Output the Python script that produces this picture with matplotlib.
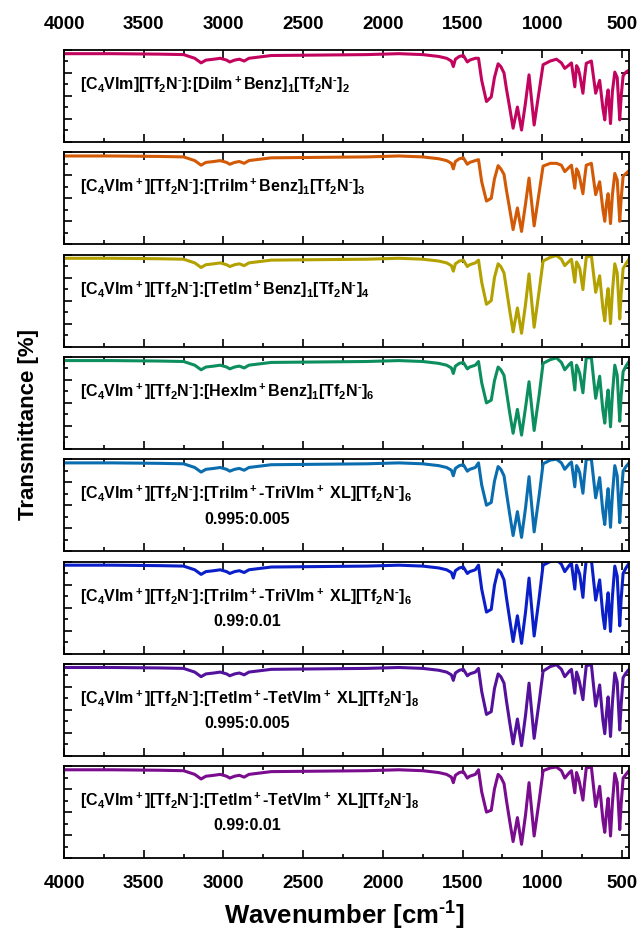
import numpy as np
import matplotlib.pyplot as plt
from matplotlib.ticker import MultipleLocator

plt.rcParams['font.family'] = ['Liberation Sans', 'DejaVu Sans']
plt.rcParams['font.weight'] = 'bold'
plt.rcParams['mathtext.fontset'] = 'custom'
plt.rcParams['mathtext.rm'] = 'Liberation Sans:bold'
plt.rcParams['mathtext.it'] = 'Liberation Sans:bold'
plt.rcParams['mathtext.bf'] = 'Liberation Sans:bold'
plt.rcParams['mathtext.default'] = 'rm'

# --- данные: общая часть спектра (4000-1420 см-1) ---
wn_head = [4000, 3700, 3400, 3250, 3180, 3140, 3110, 3060, 3020, 2980, 2960, 2930,
           2900, 2870, 2840, 2700, 2400, 2100, 1900, 1750, 1650, 1600, 1570, 1558,
           1545, 1520, 1495, 1470, 1455, 1420]
t_head = [96, 96, 95.5, 95, 91, 86, 89, 90, 91, 89, 87, 89,
          90, 88, 91, 94, 94.5, 95, 96, 95, 93, 91, 88, 82,
          90, 93, 94, 87, 89, 91]

# --- область отпечатков пальцев (1400-456 см-1) ---
wn_tail = [1400, 1380, 1350, 1320, 1300, 1277, 1260, 1240, 1225, 1205, 1183, 1156,
           1130, 1105, 1083, 1051, 1020, 995, 950, 911, 880, 859, 830, 817,
           796, 785, 775, 765, 745, 735, 724, 692, 665, 640, 620, 608,
           597, 587, 572, 560, 545, 530, 514, 505, 493, 475, 456]

t_dibenz = [91, 67, 44, 49, 70, 85, 82, 75, 58, 38, 15, 38,
            13, 43, 73, 18.5, 55, 84, 88, 90, 86, 80, 84, 86,
            60, 83, 80, 73, 53, 70, 85.5, 88, 53, 67, 37, 24,
            46, 56.6, 20, 55, 76, 70, 24, 50, 72, 76, 78]
t_tribenz = [92, 68, 47, 50, 71, 85.5, 82, 76, 59, 39, 16, 39.5,
             14, 44, 72, 20, 56, 85, 88, 88, 86, 79, 84, 86,
             61, 82, 79, 72, 55, 71, 86, 88, 54, 68, 38, 25,
             45, 55, 22.5, 54, 77, 70, 25, 50, 74, 77, 80]
t_tetbenz = [94, 70, 46, 50, 75, 90, 87, 80, 63, 40, 16, 42,
             14.5, 46, 79, 21, 60, 93, 97, 99, 95, 88, 93, 95,
             70, 92, 89, 85, 62, 80, 97, 99, 59, 77, 42, 28,
             50, 63, 25, 60, 90, 80, 30, 58, 85, 90, 95]
t_hexbenz = [95, 72, 50, 53, 74, 89, 86, 80, 63, 40, 17, 43,
             15, 45, 73, 20, 58, 93, 97, 99, 94, 86, 92, 94,
             64, 91, 87, 82, 61, 80, 99, 99, 55, 79, 42, 28,
             50, 64, 24, 60, 91, 80, 30, 58, 84, 90, 95]
t_tri_995 = [96, 72, 50, 53, 76, 92, 89, 82, 64, 41, 17, 43,
             15, 47, 81, 21, 60, 95, 99, 100, 96, 89, 95, 97,
             70, 93, 90, 85, 63, 82, 100, 100, 58, 80, 43, 29,
             52, 68, 26, 62, 93, 82, 31, 60, 87, 92, 96]
t_tri_99 = [96, 70, 45, 48, 74, 91, 88, 80, 61, 38, 13, 41,
            11, 45, 82, 19, 60, 96, 100, 102, 97, 89, 96, 98,
            70, 96, 91, 86, 61, 84, 102, 102, 58, 80, 42, 27,
            50, 66, 24, 62, 95, 84, 30, 60, 87, 93, 98]
t_tet_995 = [95, 70, 45, 48, 73, 89, 86, 79, 60, 37, 13, 40,
             11, 44, 79, 19, 58, 92, 97, 99, 94, 86, 92, 94,
             68, 91, 86, 79, 61, 80, 98, 99, 54, 77, 39, 24,
             47, 64, 21, 58, 90, 80, 28, 56, 85, 90, 94]
t_tet_99 = [96, 72, 50, 52, 75, 91, 88, 81, 63, 41, 18, 44,
            15, 47, 82, 24, 62, 95, 98, 99, 95, 87, 93, 95,
            71, 93, 88, 81, 63, 81, 98, 99, 56, 78, 42, 28,
            50, 65, 24, 60, 92, 82, 31, 59, 87, 91, 95]

M = r'$^\text{-}$'  # короткий дефис в верхнем индексе
labels = [
    r'[C$_4$VIm][Tf$_2$N' + M + r']:[DiIm$^+$Benz]$_1$[Tf$_2$N' + M + r']$_2$',
    r'[C$_4$VIm$^+$][Tf$_2$N' + M + r']:[TriIm$^+$Benz]$_1$[Tf$_2$N' + M + r']$_3$',
    r'[C$_4$VIm$^+$][Tf$_2$N' + M + r']:[TetIm$^+$Benz]$_1$[Tf$_2$N' + M + r']$_4$',
    r'[C$_4$VIm$^+$][Tf$_2$N' + M + r']:[HexIm$^+$Benz]$_1$[Tf$_2$N' + M + r']$_6$',
    r'[C$_4$VIm$^+$][Tf$_2$N' + M + r']:[TriIm$^+$-TriVIm$^+$ XL][Tf$_2$N' + M + r']$_6$',
    r'[C$_4$VIm$^+$][Tf$_2$N' + M + r']:[TriIm$^+$-TriVIm$^+$ XL][Tf$_2$N' + M + r']$_6$',
    r'[C$_4$VIm$^+$][Tf$_2$N' + M + r']:[TetIm$^+$-TetVIm$^+$ XL][Tf$_2$N' + M + r']$_8$',
    r'[C$_4$VIm$^+$][Tf$_2$N' + M + r']:[TetIm$^+$-TetVIm$^+$ XL][Tf$_2$N' + M + r']$_8$',
]
ratios = ['', '', '', '', '0.995:0.005', '0.99:0.01', '0.995:0.005', '0.99:0.01']
spectra = [t_dibenz, t_tribenz, t_tetbenz, t_hexbenz,
           t_tri_995, t_tri_99, t_tet_995, t_tet_99]
colors = ['#C2045E', '#D25A06', '#B3A100', '#0C8E5E',
          '#0A6DB0', '#0A1FC8', '#54119C', '#7A0C8E']

# ===============================
# Построение
# ===============================
fig = plt.figure(figsize=(6.42, 9.38), dpi=100)
left, right = 64 / 642, 629 / 642
top0, h, pitch = 50, 92, 102.3

wn = wn_head + wn_tail
for i in range(8):
    y_top = top0 + i * pitch
    ax = fig.add_axes([left, 1 - (y_top + h) / 938, right - left, h / 938])
    ax.plot(wn, t_head + spectra[i], color=colors[i], lw=2.2)
    ax.set_xlim(4000, 456)
    ax.set_ylim(0, 100)
    ax.xaxis.set_major_locator(MultipleLocator(500))
    ax.xaxis.set_minor_locator(MultipleLocator(250))
    ax.yaxis.set_major_locator(MultipleLocator(25))
    ax.yaxis.set_minor_locator(MultipleLocator(12.5))
    ax.tick_params(which='both', direction='in', top=True, right=True,
                   width=1.2, labelsize=13.5, pad=12)
    ax.tick_params(which='major', length=5.5)
    ax.tick_params(which='minor', length=3)
    ax.tick_params(axis='y', labelleft=False)
    ax.tick_params(axis='x', labelbottom=(i == 7), labeltop=(i == 0))
    for s in ax.spines.values():
        s.set_linewidth(1.3)
    for lab in ax.get_xticklabels():
        lab.set_fontweight('bold')

    ax.text(0.028, 0.62, labels[i], transform=ax.transAxes, fontsize=11.5,
            fontweight='bold', ha='left', va='center')
    if ratios[i]:
        ax.text(0.325, 0.35, ratios[i], transform=ax.transAxes, fontsize=11.5,
                fontweight='bold', ha='center', va='center')

fig.text(0.045, 0.547, 'Transmittance [%]', rotation=90, fontsize=16,
         fontweight='bold', ha='center', va='center')
fig.text(0.537, 0.024, r'Wavenumber [cm$^\text{-1}$]', fontsize=18.5,
         fontweight='bold', ha='center', va='center')

fig.savefig('out.png', dpi=100)
